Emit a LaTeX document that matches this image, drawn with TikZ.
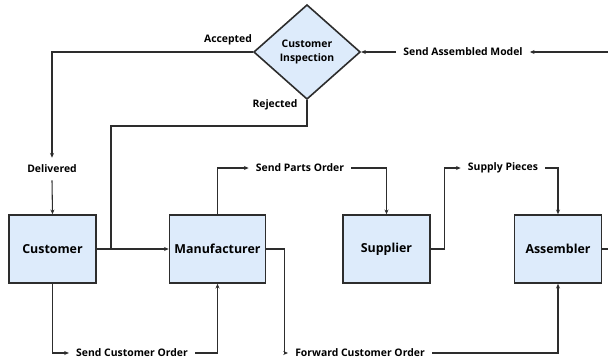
\documentclass[tikz,border=0pt]{standalone}
\usepackage{fontspec}
\setmainfont{Open Sans}
\usetikzlibrary{arrows.meta,shapes.geometric}
\definecolor{boxblue}{RGB}{221,235,251}
\definecolor{edgegray}{RGB}{45,45,45}

\tikzset{
    unit/.style={draw=edgegray, line width=1.2pt, fill=boxblue, minimum width=65pt, minimum height=51pt, font=\fontsize{9.3}{11}\selectfont\bfseries},
    tag/.style={inner sep=0.5pt, outer sep=5pt, font=\fontsize{7.8}{9}\selectfont\bfseries},
    line/.style={draw=edgegray, line width=0.8pt},
    flow/.style={line, -{Stealth[length=3.5pt,width=3pt]}}
}

\begin{document}
\begin{tikzpicture}[x=0.75pt,y=0.75pt,yscale=-1,xscale=1]
    \useasboundingbox (0,0) rectangle (608,358);

        % decision
        \node (insp) [diamond, draw=edgegray, line width=1.2pt, fill=boxblue, inner sep=0pt, minimum width=80pt, minimum height=71pt, align=center, font=\fontsize{7.8}{10}\selectfont\bfseries] at (307,52) {Customer\\Inspection};

        % parties
        \node (cust) [unit] at (52.5,249) {Customer};
        \node (manuf) [unit, minimum width=72pt] at (217.5,249) {Manufacturer};
        \node (supp) [unit] at (386.5,249) {Supplier};
        \node (asmb) [unit] at (558,249) {Assembler};

        % labels
        \node (acc) [tag] at (228,40) {Accepted};
        \node (rej) [tag] at (275,105) {Rejected};
        \node (deliv) [tag] at (52,169) {Delivered};
        \node (sparts) [tag] at (300,168) {Send Parts Order};
        \node (spieces) [tag] at (503,168) {Supply Pieces};
        \node (smodel) [tag] at (463,52) {Send Assembled Model};
        \node (scust) [tag] at (132,353) {Send Customer Order};
        \node (fwd) [tag] at (360,353) {Forward Customer Order};

        \coordinate (rj) at (111,126);
        \coordinate (join) at (111,249);
        \coordinate (edge) at (616,249);

        % connectors
        \draw [flow] (insp.west) -| (deliv.north);
        \draw [flow] (deliv.south) -- (cust.north);
        \draw [line] (insp.south) |- (rj) -- (join);
        \draw [flow] (cust.east) -- (manuf.west);
        \draw [flow] (manuf.north) |- (sparts.west);
        \draw [flow] (sparts.east) -| (supp.north);
        \draw [flow] (supp.east) -- ++(14,0) |- (spieces.west);
        \draw [flow] (spieces.east) -| (asmb.north);
        \draw [flow] (asmb.east) -- (edge) |- (smodel.east);
        \draw [flow] (smodel.west) -- (insp.east);
        \draw [flow] (cust.south) |- (scust.west);
        \draw [flow] (scust.east) -| (manuf.south);
        \draw [flow] (manuf.east) -- ++(18,0) |- (fwd.west);
        \draw [flow] (fwd.east) -| (asmb.south);

    \end{tikzpicture}
\end{document}
